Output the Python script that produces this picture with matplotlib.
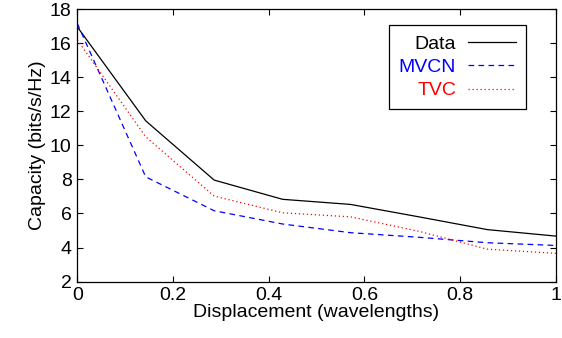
import numpy as np
import matplotlib
matplotlib.use("Agg")
import matplotlib.pyplot as plt

# displacement in wavelengths (8 samples, step 1/7)
displacement = [0.0, 0.143, 0.286, 0.429, 0.571, 0.714, 0.857, 1.0]
data_cap = [16.96, 11.44, 7.96, 6.83, 6.53, 5.8, 5.05, 4.67]
mvcn_cap = [17.16, 8.15, 6.16, 5.38, 4.87, 4.6, 4.28, 4.12]
tvc_cap = [16.2, 10.5, 7.02, 6.04, 5.8, 4.95, 3.9, 3.66]

plt.rcParams["font.family"] = ["Liberation Sans", "DejaVu Sans"]
plt.rcParams["font.size"] = 14

fig = plt.figure(figsize=(5.62, 3.38), dpi=100)
ax = fig.add_axes([0.1375, 0.167, 0.8515, 0.806])

ax.plot(displacement, data_cap, color="black", lw=0.9, label="Data")
ax.plot(displacement, mvcn_cap, color="#0000ff", lw=0.9,
        linestyle=(0, (4.5, 3.5)), label="MVCN")
ax.plot(displacement, tvc_cap, color="#ff0000", lw=0.9,
        linestyle=(0, (1, 2.2)), label="TVC")

ax.set_xlim(0, 1)
ax.set_ylim(2, 18)
ax.set_xticks([0, 0.2, 0.4, 0.6, 0.8, 1])
ax.set_xticklabels(["0", "0.2", "0.4", "0.6", "0.8", "1"])
ax.set_yticks(np.arange(2, 19, 2))
ax.tick_params(direction="in", length=4.5, width=0.8, top=True, right=True, pad=4)
for s in ax.spines.values():
    s.set_linewidth(0.9)

ax.set_xlabel("Displacement (wavelengths)", labelpad=0)
ax.set_ylabel("Capacity (bits/s/Hz)", labelpad=3)

leg = ax.legend(loc="upper right", bbox_to_anchor=(0.938, 0.941), borderaxespad=0,
                markerfirst=False, fancybox=False, framealpha=1, edgecolor="black",
                handlelength=2.5, handletextpad=0.6, labelspacing=0.3,
                borderpad=0.5, labelcolor="linecolor")
leg.get_frame().set_linewidth(0.9)

fig.savefig("out.png", dpi=100)
